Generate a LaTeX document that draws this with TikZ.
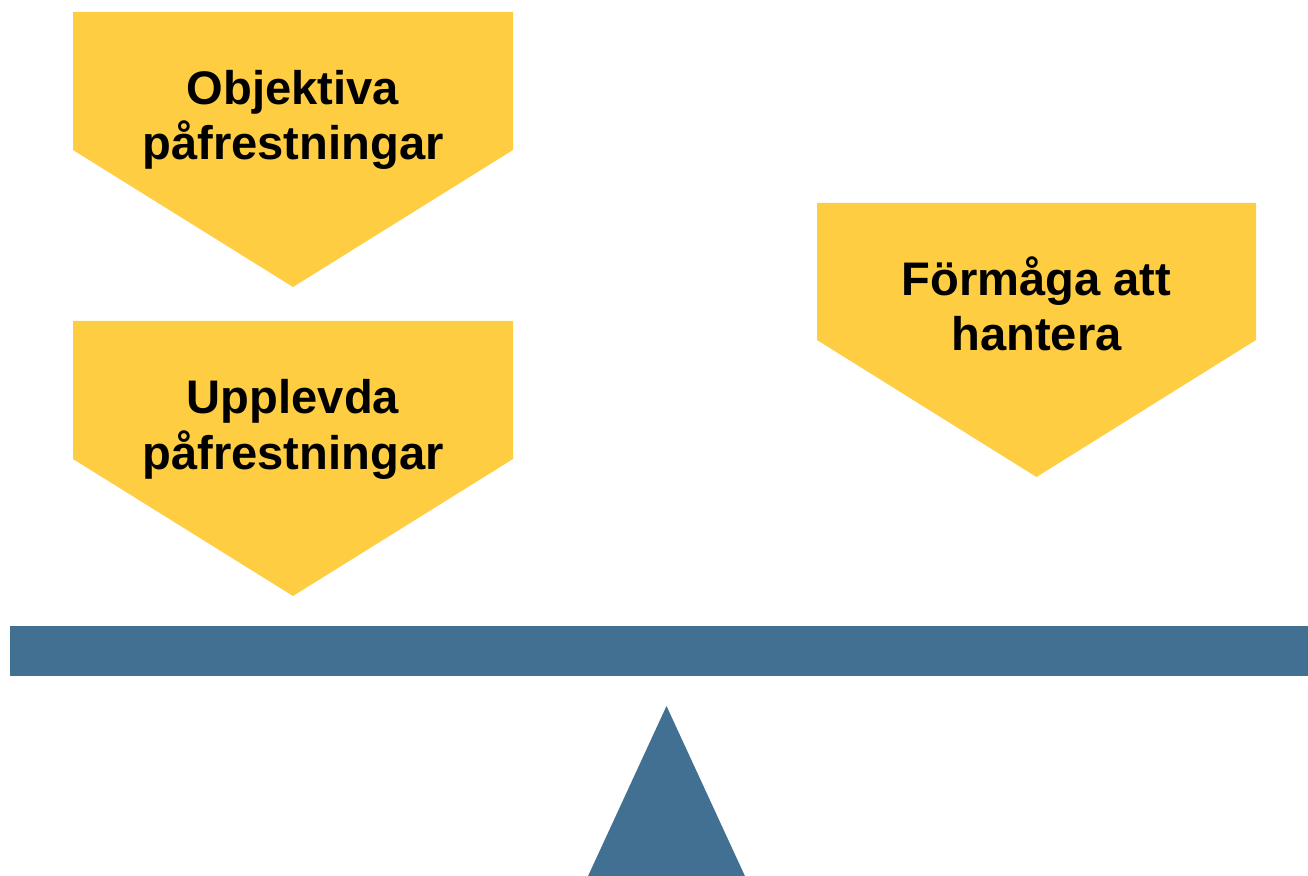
\documentclass[tikz,border=0pt]{standalone}
\usepackage{fontspec}
\setmainfont{Liberation Sans}
\usepackage{tikz}

\definecolor{pilgul}{RGB}{255,205,65}
\definecolor{vagbla}{RGB}{65,112,147}

\tikzset{
	pil/.style={fill=pilgul},
	vag/.style={fill=vagbla},
	etikett/.style={font=\bfseries\fontsize{13.4}{15.65}\selectfont, align=center, anchor=base, inner sep=0pt},
}

\begin{document}
\begin{tikzpicture}[x=0.01cm,y=-0.01cm]
	\useasboundingbox (0,0) rectangle (1308,876);
	\clip (0,0) rectangle (1308,876);
	
	\fill[pil] (73,12) -- (513,12) -- (513,150) -- (293,287) -- (73,150) -- cycle;
	\fill[pil] (73,321) -- (513,321) -- (513,459) -- (293,596) -- (73,459) -- cycle;
	\fill[pil] (817,203) -- (1256,203) -- (1256,340) -- (1036.5,477) -- (817,340) -- cycle;
	
	\node[etikett] (objektiva) at (293,160) {Objektiva\\påfrestningar};
	\node[etikett] (upplevda) at (293,469) {Upplevda\\påfrestningar};
	\node[etikett] (formaga) at (1036.5,351) {Förmåga att\\hantera};
	
	\fill[vag] (10,626) rectangle (1308,676);
	\fill[vag] (666.5,706) -- (756,900) -- (577,900) -- cycle;
\end{tikzpicture}
\end{document}
